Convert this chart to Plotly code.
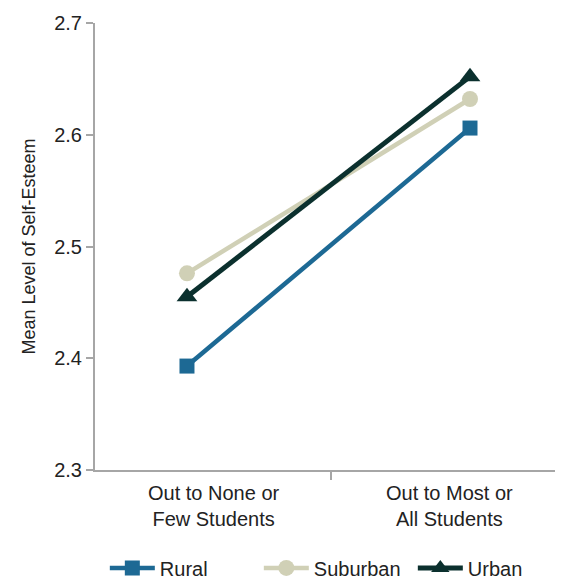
import plotly.graph_objects as go

categories = ["Out to None or<br>Few Students", "Out to Most or<br>All Students"]
series_names = ["Rural", "Suburban", "Urban"]
rural = [2.393, 2.606]
suburban = [2.476, 2.632]
urban = [2.455, 2.652]
y_ticks = [2.3, 2.4, 2.5, 2.6, 2.7]

colors = {"Rural": "#1d6994", "Suburban": "#d0d0b6", "Urban": "#0b302e"}
symbols = {"Rural": "square", "Suburban": "circle", "Urban": "triangle-up"}
sizes = {"Rural": 15, "Suburban": 16, "Urban": 18}
widths = {"Rural": 4.5, "Suburban": 4.5, "Urban": 5}
values = {"Rural": rural, "Suburban": suburban, "Urban": urban}

xs = list(range(len(categories)))
narrow = "Liberation Sans Narrow, Arial Narrow, sans-serif"
regular = "Liberation Sans, Arial, sans-serif"

fig = go.Figure()
for name in series_names:
    fig.add_trace(go.Scatter(
        x=xs, y=values[name], name=name, mode="lines+markers",
        line=dict(color=colors[name], width=widths[name]),
        marker=dict(symbol=symbols[name], size=sizes[name], color=colors[name]),
    ))

label_pos = [0.095, 0.926]
for xp, lab in zip(label_pos, categories):
    fig.add_annotation(x=xp, y=2.3, xref="x", yref="y", text=lab, showarrow=False,
                       yanchor="top", yshift=-10, font=dict(family=narrow, size=20, color="#222"))

fig.update_layout(
    width=563, height=581,
    margin=dict(l=87, r=8, t=15, b=119, autoexpand=False),
    plot_bgcolor="white", paper_bgcolor="white",
    showlegend=True,
    legend=dict(orientation="h", x=0.021, xanchor="left", y=-0.219, yanchor="middle",
                font=dict(family=narrow, size=20, color="#222"), itemwidth=45,
                entrywidth=94, entrywidthmode="pixels",
                traceorder="normal"),
    xaxis=dict(range=[-0.325, 1.3286], showgrid=False, zeroline=False,
               showline=True, linecolor="#a6a6a6", linewidth=2,
               tickvals=[0.5106], ticktext=[""], ticks="outside", ticklen=8,
               tickcolor="#a6a6a6", tickwidth=2),
    yaxis=dict(range=[2.3, 2.7], tickvals=y_ticks, tickformat=".1f",
               showgrid=False, zeroline=False, showline=True,
               linecolor="#a6a6a6", linewidth=2, ticks="outside", ticklen=7,
               tickcolor="#a6a6a6", tickwidth=2,
               tickfont=dict(family=regular, size=20, color="#222"),
               title=dict(text="Mean Level of Self-Esteem", standoff=14,
                          font=dict(family=regular, size=18, color="#222"))),
)

fig.write_html("out.html")
